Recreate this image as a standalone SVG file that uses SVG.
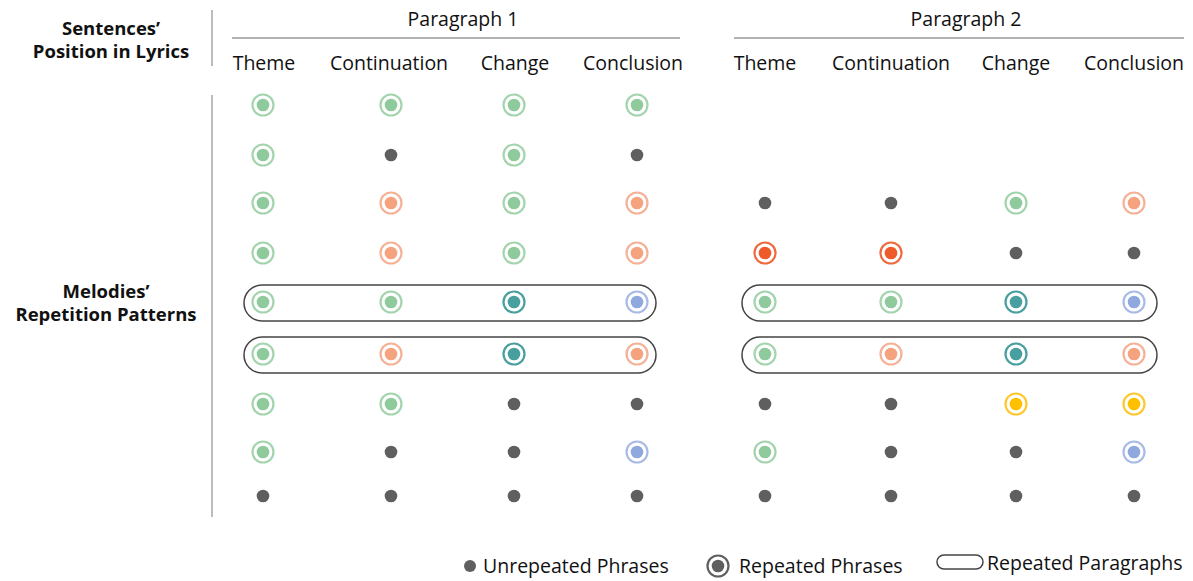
<svg xmlns="http://www.w3.org/2000/svg" width="1193" height="581" viewBox="0 0 1193 581">
<style>
text{font-family:"Open Sans","Noto Sans",sans-serif;fill:#111;}
.h{font-weight:bold;font-size:18.5px;text-anchor:middle;}
.c{font-size:19.5px;text-anchor:middle;}
.l{font-size:19.5px;}
.ax{stroke:#999;stroke-width:1.3;fill:none;}
.u{fill:#5f5f5f;}
.ring{fill:none;stroke:currentColor;stroke-width:2.2;}
.box{fill:none;stroke:#444;stroke-width:1.5;}
.g{color:#a3d4ad;fill:#8fca9c}
.o{color:#f4b196;fill:#f5a37f}
.t{color:#479fa0;fill:#479fa0}
.b{color:#a8bbe6;fill:#8fa9df}
.r{color:#ee6a3e;fill:#ee5a2a}
.y{color:#ffc72e;fill:#ffc000}
.k{color:#5f5f5f;fill:#5f5f5f}
</style>
<defs>
<g id="rep"><circle class="ring" r="10.5"/><circle r="6.3"/></g>
<circle id="un" class="u" r="6.3"/>
</defs>
<g id="header">
<text class="h" x="111" y="35">Sentences’</text>
<text class="h" x="111" y="58">Position in Lyrics</text>
<text class="h" x="106" y="298">Melodies’</text>
<text class="h" x="106" y="321">Repetition Patterns</text>
<line class="ax" x1="212" y1="10" x2="212" y2="66"/>
<line class="ax" x1="212" y1="95" x2="212" y2="517"/>
<text class="c" x="463" y="26">Paragraph 1</text>
<line class="ax" x1="232" y1="38" x2="680" y2="38"/>
<text class="c" x="966" y="26">Paragraph 2</text>
<line class="ax" x1="734" y1="38" x2="1184" y2="38"/>
<text class="c" x="264" y="70">Theme</text>
<text class="c" x="389" y="70">Continuation</text>
<text class="c" x="515" y="70">Change</text>
<text class="c" x="633" y="70">Conclusion</text>
<text class="c" x="765" y="70">Theme</text>
<text class="c" x="891" y="70">Continuation</text>
<text class="c" x="1016" y="70">Change</text>
<text class="c" x="1134" y="70">Conclusion</text>
</g>
<g id="connectors">
<rect class="box" x="244" y="285" width="412" height="36" rx="18"/>
<rect class="box" x="244" y="337" width="412" height="36" rx="18"/>
<rect class="box" x="742" y="285" width="415" height="36" rx="18"/>
<rect class="box" x="742" y="337" width="415" height="36" rx="18"/>
</g>
<g id="p1">
<use href="#rep" class="g" x="263" y="105"/><use href="#rep" class="g" x="391" y="105"/><use href="#rep" class="g" x="514" y="105"/><use href="#rep" class="g" x="637" y="105"/>
<use href="#rep" class="g" x="263" y="155"/><use href="#un" x="391" y="155"/><use href="#rep" class="g" x="514" y="155"/><use href="#un" x="637" y="155"/>
<use href="#rep" class="g" x="263" y="203"/><use href="#rep" class="o" x="391" y="203"/><use href="#rep" class="g" x="514" y="203"/><use href="#rep" class="o" x="637" y="203"/>
<use href="#rep" class="g" x="263" y="253"/><use href="#rep" class="o" x="391" y="253"/><use href="#rep" class="g" x="514" y="253"/><use href="#rep" class="o" x="637" y="253"/>
<use href="#rep" class="g" x="263" y="302"/><use href="#rep" class="g" x="391" y="302"/><use href="#rep" class="t" x="514" y="302"/><use href="#rep" class="b" x="637" y="302"/>
<use href="#rep" class="g" x="263" y="354"/><use href="#rep" class="o" x="391" y="354"/><use href="#rep" class="t" x="514" y="354"/><use href="#rep" class="o" x="637" y="354"/>
<use href="#rep" class="g" x="263" y="404"/><use href="#rep" class="g" x="391" y="404"/><use href="#un" x="514" y="404"/><use href="#un" x="637" y="404"/>
<use href="#rep" class="g" x="263" y="452"/><use href="#un" x="391" y="452"/><use href="#un" x="514" y="452"/><use href="#rep" class="b" x="637" y="452"/>
<use href="#un" x="263" y="496"/><use href="#un" x="391" y="496"/><use href="#un" x="514" y="496"/><use href="#un" x="637" y="496"/>
</g>
<g id="p2">
<use href="#un" x="765" y="203"/><use href="#un" x="891" y="203"/><use href="#rep" class="g" x="1016" y="203"/><use href="#rep" class="o" x="1134" y="203"/>
<use href="#rep" class="r" x="765" y="253"/><use href="#rep" class="r" x="891" y="253"/><use href="#un" x="1016" y="253"/><use href="#un" x="1134" y="253"/>
<use href="#rep" class="g" x="765" y="302"/><use href="#rep" class="g" x="891" y="302"/><use href="#rep" class="t" x="1016" y="302"/><use href="#rep" class="b" x="1134" y="302"/>
<use href="#rep" class="g" x="765" y="354"/><use href="#rep" class="o" x="891" y="354"/><use href="#rep" class="t" x="1016" y="354"/><use href="#rep" class="o" x="1134" y="354"/>
<use href="#un" x="765" y="404"/><use href="#un" x="891" y="404"/><use href="#rep" class="y" x="1016" y="404"/><use href="#rep" class="y" x="1134" y="404"/>
<use href="#rep" class="g" x="765" y="452"/><use href="#un" x="891" y="452"/><use href="#un" x="1016" y="452"/><use href="#rep" class="b" x="1134" y="452"/>
<use href="#un" x="765" y="496"/><use href="#un" x="891" y="496"/><use href="#un" x="1016" y="496"/><use href="#un" x="1134" y="496"/>
</g>
<g id="legend">
<circle class="u" cx="470" cy="566" r="6"/>
<text class="l" x="483" y="573">Unrepeated Phrases</text>
<use href="#rep" class="k" x="718" y="566"/>
<text class="l" x="739" y="573">Repeated Phrases</text>
<rect class="box" x="937" y="555" width="46" height="14" rx="7"/>
<text class="l" x="987" y="570">Repeated Paragraphs</text>
</g>
</svg>
